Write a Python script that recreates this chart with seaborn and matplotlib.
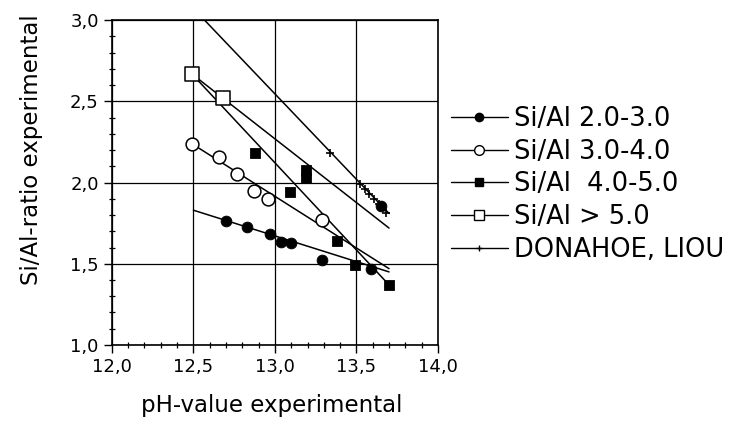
import numpy as np
import pandas as pd
import matplotlib
matplotlib.use("Agg")
import matplotlib.pyplot as plt
from matplotlib.lines import Line2D
from matplotlib.ticker import MultipleLocator, FuncFormatter
import seaborn as sns

ph_23 = [12.70, 12.83, 12.97, 13.04, 13.10, 13.29, 13.59, 13.65]
si_23 = [1.765, 1.728, 1.685, 1.636, 1.630, 1.526, 1.470, 1.858]

ph_34 = [12.49, 12.66, 12.77, 12.87, 12.96, 13.29]
si_34 = [2.24, 2.16, 2.05, 1.95, 1.90, 1.77]

ph_45 = [12.88, 13.09, 13.19, 13.19, 13.38, 13.49, 13.70]
si_45 = [2.18, 1.94, 2.08, 2.03, 1.64, 1.49, 1.37]

ph_5 = [12.49, 12.68]
si_5 = [2.67, 2.52]

ph_dl = [13.34, 13.52, 13.55, 13.58, 13.61, 13.64, 13.68]
si_dl = [2.18, 1.99, 1.96, 1.93, 1.90, 1.87, 1.81]

# Straight trend lines drawn through each group (end points)
fit_x_23, fit_y_23 = [12.50, 13.70], [1.83, 1.45]
fit_x_34, fit_y_34 = [12.49, 13.70], [2.24, 1.47]
fit_x_45, fit_y_45 = [12.49, 13.70], [2.67, 1.37]
fit_x_5, fit_y_5 = [12.49, 13.70], [2.67, 1.72]
fit_x_dl, fit_y_dl = [12.55, 13.70], [3.02, 1.81]

labels = ["Si/Al 2.0-3.0", "Si/Al 3.0-4.0", "Si/Al  4.0-5.0",
          "Si/Al > 5.0", "DONAHOE, LIOU"]

sns.set_style("white")
plt.rcParams["font.family"] = ["DejaVu Sans"]
plt.rcParams["text.color"] = "black"
plt.rcParams["axes.labelcolor"] = "black"
plt.rcParams["xtick.color"] = "black"
plt.rcParams["ytick.color"] = "black"

fig = plt.figure(figsize=(7.41, 4.40), dpi=100)
ax = fig.add_axes([0.151, 0.216, 0.440, 0.738])

# trend lines
for fx, fy in [(fit_x_23, fit_y_23), (fit_x_34, fit_y_34), (fit_x_45, fit_y_45),
               (fit_x_5, fit_y_5), (fit_x_dl, fit_y_dl)]:
    sns.lineplot(x=fx, y=fy, ax=ax, color="black", lw=1.1, zorder=3)

# points
sns.scatterplot(x=ph_23, y=si_23, ax=ax, marker="o", s=60, color="black",
                edgecolor="black", zorder=5)
sns.scatterplot(x=ph_34, y=si_34, ax=ax, marker="o", s=85, facecolor="white",
                edgecolor="black", linewidth=1.1, zorder=5)
sns.scatterplot(x=ph_45, y=si_45, ax=ax, marker="s", s=55, color="black",
                edgecolor="black", zorder=5)
sns.scatterplot(x=ph_5, y=si_5, ax=ax, marker="s", s=90, facecolor="white",
                edgecolor="black", linewidth=1.1, zorder=5)
sns.scatterplot(x=ph_dl, y=si_dl, ax=ax, marker="+", s=40, color="black",
                linewidth=1.2, zorder=5)

ax.set_xlim(12.0, 14.0)
ax.set_ylim(1.0, 3.0)
ax.xaxis.set_major_locator(MultipleLocator(0.5))
ax.xaxis.set_minor_locator(MultipleLocator(0.1))
ax.yaxis.set_major_locator(MultipleLocator(0.5))
ax.yaxis.set_minor_locator(MultipleLocator(0.1))
comma = FuncFormatter(lambda v, p: f"{v:.1f}".replace(".", ","))
ax.xaxis.set_major_formatter(comma)
ax.yaxis.set_major_formatter(comma)
ax.grid(True, which="major", color="black", lw=0.9)
ax.tick_params(which="major", direction="out", length=6, width=1,
               labelsize=13, color="black", left=True, bottom=True)
ax.tick_params(which="minor", direction="inout", length=4, width=0.9,
               color="black", left=True, bottom=True)
for sp in ax.spines.values():
    sp.set_color("black")
    sp.set_linewidth(1.2)

ax.set_xlabel("pH-value experimental", fontsize=16.5)
ax.set_ylabel("Si/Al-ratio experimental", fontsize=16.5)
ax.xaxis.set_label_coords(0.49, -0.15)
ax.yaxis.set_label_coords(-0.21, 0.6)

handles = [
    Line2D([], [], color="black", lw=1, marker="o", ms=6, mfc="black", mec="black"),
    Line2D([], [], color="black", lw=1, marker="o", ms=7, mfc="white", mec="black"),
    Line2D([], [], color="black", lw=1, marker="s", ms=6, mfc="black", mec="black"),
    Line2D([], [], color="black", lw=1, marker="s", ms=7, mfc="white", mec="black"),
    Line2D([], [], color="black", lw=1, marker="+", ms=5, mec="black"),
]
fig.legend(handles, labels, loc="upper left", bbox_to_anchor=(451 / 741, 1 - 106 / 440),
           frameon=False, fontsize=18.5, handlelength=2.2, handletextpad=0.25,
           labelspacing=0.26, borderaxespad=0, borderpad=0)

fig.savefig("out.png", dpi=100)
